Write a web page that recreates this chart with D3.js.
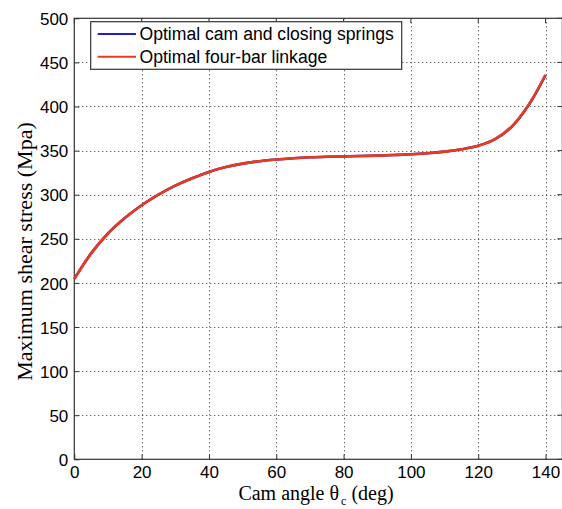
<!DOCTYPE html>
<html>
<head>
<meta charset="utf-8">
<script src="https://cdn.jsdelivr.net/npm/d3@7/dist/d3.min.js"></script>
<style>
  html, body { margin: 0; padding: 0; background: #fff; }
  svg { display: block; }
</style>
</head>
<body>
<svg id="chart" width="562" height="509"></svg>
<script>
// Cam angle samples (deg)
const camAngle = [0, 5, 10, 15, 20, 25, 30, 35, 40, 45, 50, 55, 60, 65, 70,
                  75, 80, 85, 90, 95, 100, 105, 110, 115, 120, 125, 130, 135, 140];
// Maximum shear stress (MPa) for the cam with closing springs
const stressCamSprings = [204.5, 233.5, 256, 273.5, 288, 300, 310.2, 318.6, 325.8, 331.3, 335.2, 338, 340, 341.4, 342.4,
                          343, 343.4, 343.8, 344.3, 345, 345.8, 347, 348.8, 351.5, 355.5, 363, 377.2, 401.6, 435.6];
// Maximum shear stress (MPa) for the four-bar linkage
const stressFourBar = [204.5, 233.5, 256, 273.5, 288, 300, 310.2, 318.6, 325.8, 331.3, 335.2, 338, 340, 341.4, 342.4,
                       343, 343.4, 343.8, 344.3, 345, 345.8, 347, 348.8, 351.5, 355.5, 363, 377.5, 402, 436];
const xTicks = [0, 20, 40, 60, 80, 100, 120, 140];
const yTicks = [0, 50, 100, 150, 200, 250, 300, 350, 400, 450, 500];
const seriesNames = ["Optimal cam and closing springs", "Optimal four-bar linkage"];
const seriesColors = ["#1f1fd0", "#ea3a1c"];

const svg = d3.select("#chart");
const plotLeft = 74.3, plotTop = 18.3, plotBottom = 459.3;
const x = d3.scaleLinear().domain([0, 145]).range([plotLeft, plotLeft + 145 * 3.366]);
const y = d3.scaleLinear().domain([0, 500]).range([plotBottom, plotTop]);
const plotRight = x(145);

// dotted grid
const grid = svg.append("g").attr("stroke", "#333").attr("stroke-width", 1)
  .attr("stroke-dasharray", "1,3");
grid.selectAll("line.gx").data(xTicks.filter(d => d > 0)).join("line")
  .attr("x1", d => Math.round(x(d)) + 0.5).attr("x2", d => Math.round(x(d)) + 0.5)
  .attr("y1", plotTop).attr("y2", plotBottom);
grid.selectAll("line.gy").data(yTicks.filter(d => d > 0 && d < 500)).join("line")
  .attr("y1", d => Math.round(y(d)) + 0.5).attr("y2", d => Math.round(y(d)) + 0.5)
  .attr("x1", plotLeft).attr("x2", plotRight);

// axes (ticks inward, labels outside)
const tickFont = "'Liberation Sans', Arial, sans-serif";
const xAxis = svg.append("g").attr("transform", `translate(0,${plotBottom})`)
  .call(d3.axisBottom(x).tickValues(xTicks).tickSizeInner(-5).tickSizeOuter(0).tickPadding(6.5));
const yAxis = svg.append("g").attr("transform", `translate(${plotLeft},0)`)
  .call(d3.axisLeft(y).tickValues(yTicks).tickSizeInner(-5).tickSizeOuter(0).tickPadding(6));
[xAxis, yAxis].forEach(g => {
  g.select(".domain").remove();
  g.selectAll(".tick line").attr("stroke", "#333");
  g.selectAll(".tick text").attr("fill", "#000").style("font-family", tickFont)
    .style("font-size", "17px");
});
yAxis.selectAll(".tick text").attr("dy", "0.36em");
// mirrored ticks on the top and right of the box
svg.append("g").selectAll("line").data(xTicks).join("line")
  .attr("x1", d => x(d)).attr("x2", d => x(d)).attr("y1", plotTop).attr("y2", plotTop + 5)
  .attr("stroke", "#333");
svg.append("g").selectAll("line").data(yTicks).join("line")
  .attr("y1", d => y(d)).attr("y2", d => y(d)).attr("x1", plotRight - 5).attr("x2", plotRight)
  .attr("stroke", "#333");

// axes box
svg.append("rect").attr("x", plotLeft).attr("y", plotTop).attr("width", plotRight - plotLeft)
  .attr("height", plotBottom - plotTop).attr("fill", "none").attr("stroke", "#333").attr("stroke-width", 1.2);

// curves
const line = d3.line().x(d => x(d[0])).y(d => y(d[1])).curve(d3.curveCatmullRom.alpha(0.5));
[stressCamSprings, stressFourBar].forEach((vals, i) => {
  svg.append("path").datum(camAngle.map((a, k) => [a, vals[k]]))
    .attr("d", line).attr("fill", "none").attr("stroke", seriesColors[i])
    .attr("stroke-width", 2.6);
});

// legend
const lg = svg.append("g");
lg.append("rect").attr("x", 90.7).attr("y", 21.7).attr("width", 311).attr("height", 47.6)
  .attr("fill", "#fff").attr("stroke", "#333").attr("stroke-width", 1.2);
seriesNames.forEach((name, i) => {
  const ly = 34 + i * 22.7;
  lg.append("line").attr("x1", 97.7).attr("x2", 136).attr("y1", ly).attr("y2", ly)
    .attr("stroke", seriesColors[i]).attr("stroke-width", 2);
  lg.append("text").attr("x", 139.5).attr("y", ly).attr("dy", "0.36em")
    .style("font-family", tickFont).style("font-size", "17.6px").text(name);
});

// axis titles: main text, subscript, units laid out side by side
const titleFont = "'Liberation Serif', 'Times New Roman', serif";
const xParts = [
  { text: "Cam angle \u03b8", size: 20, dy: 0, gap: 0 },
  { text: "c", size: 12, dy: 5.5, gap: 2 },
  { text: "(deg)", size: 20, dy: 0, gap: 5 }
];
const xTitle = svg.append("g");
let cursor = 0;
xParts.forEach(p => {
  cursor += p.gap;
  const t = xTitle.append("text").attr("x", cursor).attr("y", 499.6 + p.dy)
    .style("font-family", titleFont).style("font-size", p.size + "px").text(p.text);
  cursor += t.node().getComputedTextLength();
});
xTitle.attr("transform", `translate(${316 - cursor / 2},0)`);

svg.append("text").attr("transform", "translate(32,251.5) rotate(-90)")
  .attr("text-anchor", "middle").style("font-family", titleFont).style("font-size", "22px")
  .text("Maximum shear stress (Mpa)");
</script>
</body>
</html>
